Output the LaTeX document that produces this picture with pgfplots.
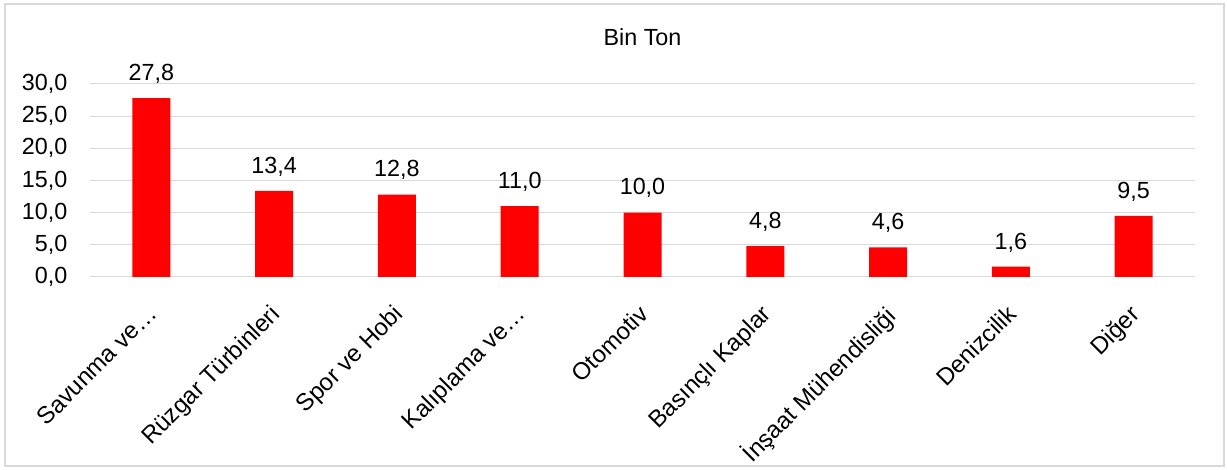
\documentclass[border=0pt]{standalone}
\usepackage{fontspec}
\setmainfont{Liberation Sans}
\usepackage{pgfplots}
\pgfplotsset{compat=1.18}
\definecolor{gridgray}{HTML}{D9D9D9}
\begin{document}
\fontsize{17.5}{20}\selectfont
\begin{tikzpicture}
\useasboundingbox (0,0) rectangle (920.25pt,352.5pt);
\draw[gridgray, line width=0.9pt] (3.75pt,3pt) rectangle (918pt,349.5pt);
\begin{axis}[
  at={(67.5pt,144.75pt)}, anchor=south west,
  scale only axis, width=828.75pt, height=144.75pt,
  xmin=-0.5, xmax=8.5, ymin=0, ymax=30,
  axis line style={draw=none},
  ytick={0,5,...,30},
  ymajorgrids, grid style={gridgray, line width=0.75pt},
  major tick length=0,
  xtick={0,...,8},
  xticklabels={Savunma ve…, Rüzgar Türbinleri, Spor ve Hobi, Kalıplama ve…, Otomotiv, Basınçlı Kaplar, İnşaat Mühendisliği, Denizcilik, Diğer},
  xticklabel style={rotate=45, anchor=north east, font=\fontsize{18}{21}\selectfont, xshift=-10.75pt, yshift=-5.25pt},
  yticklabel style={font=\fontsize{17.5}{20}\selectfont, xshift=-11pt, /pgf/number format/.cd, fixed, fixed zerofill, precision=1, use comma},
  /pgf/number format/assume math mode=true,
  ybar, bar width=28.5pt,
  nodes near coords,
  nodes near coords style={font=\fontsize{17.5}{20}\selectfont, yshift=5pt, /pgf/number format/.cd, fixed, fixed zerofill, precision=1, use comma},
  title={Bin Ton},
  title style={font=\fontsize{17.5}{20}\selectfont, anchor=base, yshift=22.5pt},
  clip=false,
]
\addplot[fill=red, draw=none] coordinates {(0,27.8) (1,13.4) (2,12.8) (3,11.0) (4,10.0) (5,4.8) (6,4.6) (7,1.6) (8,9.5)};
\end{axis}
\end{tikzpicture}
\end{document}
